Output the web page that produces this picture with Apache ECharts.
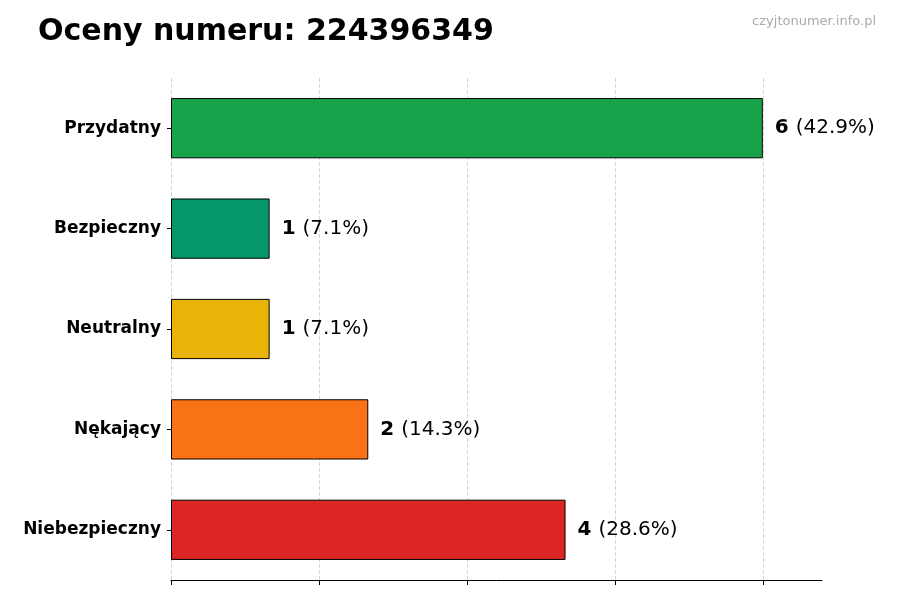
<!DOCTYPE html>
<html><head><meta charset="utf-8">
<script src="https://cdn.jsdelivr.net/npm/echarts@6/dist/echarts.min.js"></script>
<style>body{margin:0}#c{width:900px;height:600px}</style>
</head><body><div id="c"></div>
<script>
const categories = ['Niebezpieczny', 'Nękający', 'Neutralny', 'Bezpieczny', 'Przydatny'];
const values = [4, 2, 1, 1, 6];
const percents = ['28.6%', '14.3%', '7.1%', '7.1%', '42.9%'];
const colors = ['#dc2626', '#f97316', '#eab308', '#059669', '#16a34a'];
const xTicks = [0, 1.5, 3, 4.5, 6];

const chart = echarts.init(document.getElementById('c'));
chart.setOption({
  animation: false,
  title: [
    { text: 'Oceny numeru: 224396349', left: 33, top: 12,
      textStyle: { fontFamily: 'DejaVu Sans', fontWeight: 'bold', fontSize: 30, color: '#000' } },
    { text: 'czyjtonumer.info.pl', right: 19, top: 10,
      textStyle: { fontFamily: 'DejaVu Sans', fontWeight: 'normal', fontSize: 13, color: '#aaa' } }
  ],
  grid: { left: 171, right: 78, top: 78, bottom: 20 },
  xAxis: {
    type: 'value', min: 0, max: 6.6, interval: 1.5,
    axisLine: { show: true, lineStyle: { color: '#000' } },
    axisTick: { show: true, length: 5, customValues: xTicks, lineStyle: { color: '#000' } },
    axisLabel: { show: false },
    splitLine: { show: true, showMaxLine: false, lineStyle: { type: 'dashed', color: '#d5d5d5' } }
  },
  yAxis: {
    type: 'category', data: categories,
    axisLine: { show: false },
    axisTick: { show: true, length: 4, alignWithLabel: true, lineStyle: { color: '#000' } },
    axisLabel: { fontFamily: 'DejaVu Sans', fontWeight: 'bold', fontSize: 17, color: '#000', margin: 10 }
  },
  series: [{
    type: 'bar', barWidth: '60%', z: 3,
    data: values.map((v, i) => ({ value: v, itemStyle: { color: colors[i] } })),
    itemStyle: { borderColor: '#000', borderWidth: 1 },
    markLine: {
      silent: true, symbol: 'none', label: { show: false }, z: 1,
      lineStyle: { type: 'dashed', color: '#d5d5d5', width: 1 },
      data: [{ xAxis: xTicks[xTicks.length - 1] }]
    },
    label: {
      show: true, position: 'right', distance: 12,
      formatter: p => '{b|' + p.value + '}{n|(' + percents[p.dataIndex] + ')}',
      rich: {
        b: { fontFamily: 'DejaVu Sans', fontWeight: 'bold', fontSize: 20, color: '#000', padding: [0, 7, 0, 0] },
        n: { fontFamily: 'DejaVu Sans', fontSize: 20, color: '#000' }
      }
    }
  }]
});
</script></body></html>
